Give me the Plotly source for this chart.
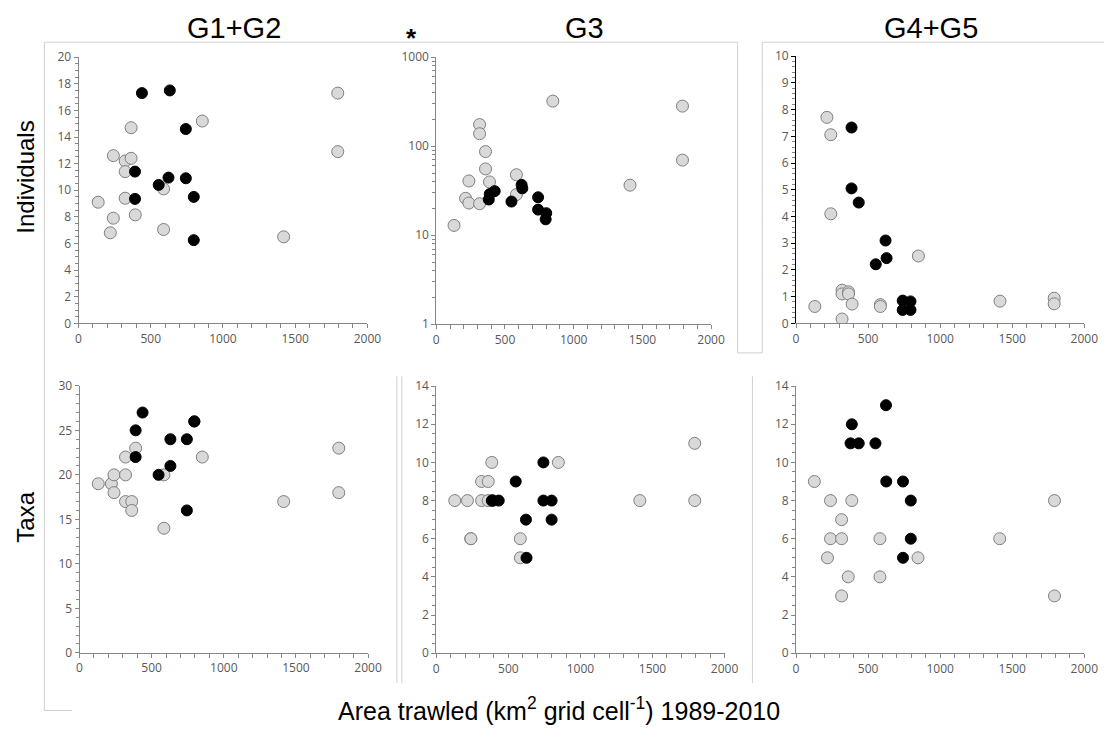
import plotly.graph_objects as go

# ---------------- data ----------------
# Panel: G1+G2 Individuals
g12_ind_grey_x = [136, 241, 220, 241, 323, 323, 323, 364, 364, 393, 589, 589, 857, 1420, 1795, 1795]
g12_ind_grey_y = [9.1, 7.9, 6.8, 12.6, 12.2, 11.4, 9.4, 14.7, 12.4, 8.15, 10.1, 7.05, 15.2, 6.5, 17.3, 12.9]
g12_ind_black_x = [439, 632, 743, 391, 391, 555, 623, 743, 798, 798]
g12_ind_black_y = [17.3, 17.5, 14.6, 11.4, 9.35, 10.4, 10.95, 10.9, 9.5, 6.25]

# Panel: G3 Individuals (log scale)
g3_ind_grey_x = [129, 213, 237, 237, 315, 315, 315, 358, 358, 387, 583, 583, 848, 1410, 1792, 1792]
g3_ind_grey_y = [12.9, 26, 40.7, 23, 175, 138, 22.6, 87, 55.6, 39.7, 47.8, 28.6, 321, 36.5, 282, 69.8]
g3_ind_black_x = [382, 389, 425, 547, 621, 626, 741, 741, 800, 796]
g3_ind_black_y = [25.2, 29, 31.3, 23.9, 36.8, 33.6, 26.7, 19.4, 17.7, 15.1]

# Panel: G4+G5 Individuals
g45_ind_grey_x = [130, 214, 241, 241, 319, 319, 319, 364, 364, 389, 585, 585, 849, 1415, 1791, 1791]
g45_ind_grey_y = [0.63, 7.71, 7.06, 4.10, 1.24, 1.10, 0.16, 1.18, 1.10, 0.72, 0.70, 0.63, 2.52, 0.83, 0.94, 0.73]
g45_ind_black_x = [385, 385, 435, 553, 621, 628, 740, 740, 794, 794]
g45_ind_black_y = [7.33, 5.05, 4.52, 2.21, 3.10, 2.44, 0.85, 0.50, 0.82, 0.50]

# Panel: G1+G2 Taxa
g12_tax_grey_x = [130, 221, 239, 239, 319, 319, 319, 362, 362, 389, 585, 585, 851, 1415, 1797, 1797]
g12_tax_grey_y = [19, 19, 20, 18, 22, 20, 17, 17, 16, 23, 20, 14, 22, 17, 23, 18]
g12_tax_black_x = [437, 389, 389, 796, 630, 744, 548, 630, 744, 796]
g12_tax_black_y = [27, 25, 22, 26, 24, 24, 20, 21, 16, 26]

# Panel: G3 Taxa
g3_tax_grey_x = [128, 216, 239, 314, 314, 360, 360, 385, 583, 583, 847, 1412, 1793, 1793, 390, 240]
g3_tax_grey_y = [8, 8, 6, 9, 8, 9, 8, 10, 6, 5, 10, 8, 11, 8, 8, 6]
g3_tax_black_x = [385, 433, 551, 743, 743, 800, 622, 800, 626, 390]
g3_tax_black_y = [8, 8, 9, 10, 8, 8, 7, 7, 5, 8]

# Panel: G4+G5 Taxa
g45_tax_grey_x = [127, 239, 387, 316, 239, 316, 582, 218, 846, 362, 582, 316, 1413, 1793, 1793]
g45_tax_grey_y = [9, 8, 8, 7, 6, 6, 6, 5, 5, 4, 4, 3, 6, 8, 3]
g45_tax_black_x = [624, 387, 378, 435, 551, 626, 742, 796, 796, 742]
g45_tax_black_y = [13, 12, 11, 11, 11, 9, 9, 8, 6, 5]

column_titles = ["G1+G2", "G3", "G4+G5"]
row_titles = ["Individuals", "Taxa"]
x_title = "Area trawled (km<sup>2</sup> grid cell<sup>-1</sup>) 1989-2010"

panels = [
    (g12_ind_grey_x, g12_ind_grey_y, g12_ind_black_x, g12_ind_black_y),
    (g3_ind_grey_x, g3_ind_grey_y, g3_ind_black_x, g3_ind_black_y),
    (g45_ind_grey_x, g45_ind_grey_y, g45_ind_black_x, g45_ind_black_y),
    (g12_tax_grey_x, g12_tax_grey_y, g12_tax_black_x, g12_tax_black_y),
    (g3_tax_grey_x, g3_tax_grey_y, g3_tax_black_x, g3_tax_black_y),
    (g45_tax_grey_x, g45_tax_grey_y, g45_tax_black_x, g45_tax_black_y),
]

# ---------------- layout ----------------
W, H = 1118, 740

def px_x(a, b):
    return [a / W, b / W]

def px_y(top, bottom):
    return [1 - bottom / H, 1 - top / H]

x_domains = [px_x(76.7, 370), px_x(440, 719), px_x(805.3, 1098),
             px_x(77.7, 370.7), px_x(440, 732.7), px_x(805.3, 1098)]
y_domains = [px_y(49.3, 321.7), px_y(49.3, 322.7), px_y(48.3, 321.7),
             px_y(385.7, 659), px_y(386, 659.3), px_y(386, 659.3)]

y_cfg = [
    dict(range=[0, 20], dtick=2, minor=dict(dtick=0.5)),
    dict(type="log", range=[0, 3], dtick=1, minor=dict(dtick="D1")),
    dict(range=[0, 10], dtick=1, minor=dict(dtick=0.2)),
    dict(range=[0, 30], dtick=5, minor=dict(dtick=1)),
    dict(range=[0, 14], dtick=2, minor=dict(dtick=0.5)),
    dict(range=[0, 14], dtick=2, minor=dict(dtick=0.5)),
]

tick_font = dict(family="Open Sans, Liberation Sans, Arial", size=12, color="#595959")
axis_grey = "#868686"

fig = go.Figure()
layout = dict(
    width=W, height=H,
    margin=dict(l=0, r=0, t=0, b=0),
    paper_bgcolor="white", plot_bgcolor="white",
    showlegend=False,
    font=dict(color="#595959"),
)

for i, (gx, gy, bx, by) in enumerate(panels):
    n = i + 1
    xa = "x" if n == 1 else f"x{n}"
    ya = "y" if n == 1 else f"y{n}"
    fig.add_trace(go.Scatter(
        x=gx, y=gy, mode="markers", xaxis=xa, yaxis=ya,
        marker=dict(size=12, color="#d9d9d9", line=dict(color="#7f7f7f", width=1)),
        hoverinfo="x+y"))
    fig.add_trace(go.Scatter(
        x=bx, y=by, mode="markers", xaxis=xa, yaxis=ya,
        marker=dict(size=11, color="black", line=dict(color="black", width=1)),
        hoverinfo="x+y"))
    xkey = "xaxis" if n == 1 else f"xaxis{n}"
    ykey = "yaxis" if n == 1 else f"yaxis{n}"
    layout[xkey] = dict(
        domain=x_domains[i], anchor=ya, range=[0, 2000], dtick=500,
        showgrid=False, zeroline=False, showline=True, linecolor=axis_grey, linewidth=1,
        ticks="outside", ticklen=4, tickcolor=axis_grey, tickfont=tick_font,
        minor=dict(dtick=100, ticks="outside", ticklen=4, tickcolor=axis_grey, showgrid=False),
    )
    yc = dict(y_cfg[i])
    minor = dict(yc.pop("minor"), ticks="outside", ticklen=3, tickcolor=axis_grey, showgrid=False)
    ylc = "black" if n == 3 else axis_grey
    layout[ykey] = dict(
        domain=y_domains[i], anchor=xa,
        showgrid=False, zeroline=False, showline=True, linecolor=ylc, linewidth=1,
        ticks="outside", ticklen=4, tickcolor=ylc, tickfont=tick_font,
        minor=minor, **yc,
    )

title_font = dict(family="Liberation Sans, Arial", size=29, color="black")
annotations = []
for t, cx in zip(column_titles, [235, 590, 942]):
    annotations.append(dict(text=t, x=cx / W, y=1 - 19 / H, xref="paper", yref="paper",
                            showarrow=False, font=title_font, xanchor="center", yanchor="middle"))
for t, cy in zip(row_titles, [172, 520]):
    annotations.append(dict(text=t, x=22 / W, y=1 - cy / H, xref="paper", yref="paper",
                            showarrow=False, textangle=-90,
                            font=dict(family="Liberation Sans, Arial", size=24, color="black"),
                            xanchor="center", yanchor="middle"))
annotations.append(dict(text=x_title, x=565 / W, y=1 - 716 / H, xref="paper", yref="paper",
                        showarrow=False,
                        font=dict(family="Liberation Sans, Arial", size=25, color="black"),
                        xanchor="center", yanchor="middle"))
annotations.append(dict(text="<b>*</b>", x=415 / W, y=1 - 30 / H, xref="paper", yref="paper",
                        showarrow=False,
                        font=dict(family="Liberation Sans, Arial", size=26, color="black"),
                        xanchor="center", yanchor="middle"))
layout["annotations"] = annotations

# faint panel borders (image-composite frames)
bc = "#d0d0d0"
def seg(x0, y0, x1, y1):
    return dict(type="line", xref="paper", yref="paper",
                x0=x0 / W, x1=x1 / W, y0=1 - y0 / H, y1=1 - y1 / H,
                line=dict(color=bc, width=1), layer="below")

layout["shapes"] = [
    seg(42, 34, 746, 34),
    seg(42, 34, 42, 718),
    seg(42, 718, 70, 718),
    seg(746, 34, 746, 352),
    seg(746, 352, 771, 352),
    seg(771, 34, 771, 352),
    seg(771, 34, 1118, 34),
    seg(400, 376, 400, 690),
    seg(405, 376, 405, 690),
    seg(761, 376, 761, 690),
]

fig.update_layout(**layout)
fig.write_html("out.html")
